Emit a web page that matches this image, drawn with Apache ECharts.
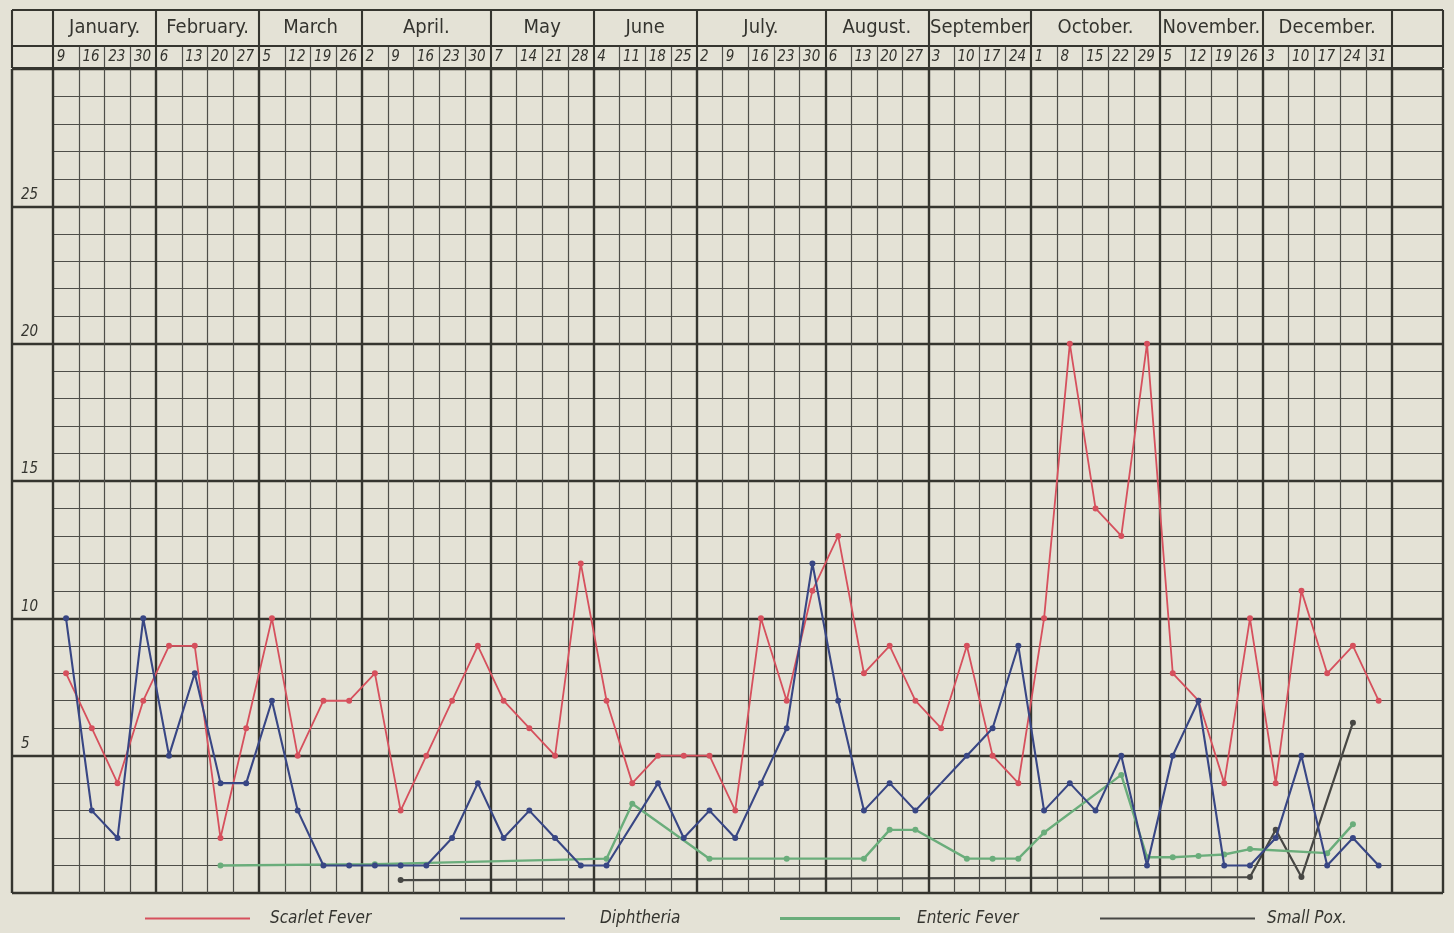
<!DOCTYPE html>
<html><head><meta charset="utf-8">
<script src="https://cdn.jsdelivr.net/npm/echarts@6/dist/echarts.min.js"></script>
<style>html,body{margin:0;padding:0;background:#e4e2d6;}#c{width:1454px;height:933px;}</style>
</head><body><div id="c"></div>
<script>
// ---------- data ----------
const months = ['January.','February.','March','April.','May','June','July.','August.','September','October.','November.','December.'];
const monthWeeks = [4,4,4,5,4,4,5,4,4,5,4,5];
const weekDays = ['9','16','23','30','6','13','20','27','5','12','19','26','2','9','16','23','30','7','14','21','28','4','11','18','25','2','9','16','23','30','6','13','20','27','3','10','17','24','1','8','15','22','29','5','12','19','26','3','10','17','24','31'];
const seriesNames = ['Scarlet Fever','Diphtheria','Enteric Fever','Small Pox.'];
const scarlet = [8,6,4,7,9,9,2,6,10,5,7,7,8,3,5,7,9,7,6,5,12,7,4,5,5,5,3,10,7,11,13,8,9,7,6,9,5,4,10,20,14,13,20,8,7,4,10,4,11,8,9,7];
const diphtheria = [10,3,2,10,5,8,4,4,7,3,1,1,1,1,1,2,4,2,3,2,1,1,null,4,2,3,2,4,6,12,7,3,4,3,null,5,6,9,3,4,3,5,1,5,7,1,1,2,5,1,2,1];
const enteric = [null,null,null,null,null,null,1.0,null,null,null,null,null,1.05,null,null,null,null,null,null,null,null,1.25,3.25,null,null,1.25,null,null,1.25,null,null,1.25,2.3,2.3,null,1.25,1.25,1.25,2.2,null,null,4.3,1.3,1.3,1.35,1.4,1.6,null,null,1.45,2.5,null];
const smallPox = [null,null,null,null,null,null,null,null,null,null,null,null,null,0.47,null,null,null,null,null,null,null,null,null,null,null,null,null,null,null,null,null,null,null,null,null,null,null,null,null,null,null,null,null,null,null,null,0.58,2.3,0.58,null,6.2,null];

// ---------- layout constants ----------
const XMIN = -1.6, XMAX = 54, YMAX = 30;
const HEAD_H = 58, HEAD_SPLIT = 22;
const ink = '#35352f', inkLight = '#4e4e49';
const textInk = '#34342f';
const fontC = '"DejaVu Sans Condensed","Liberation Sans Narrow","DejaVu Sans",sans-serif';

const nWeeks = weekDays.length;
const monthStarts = []; { let a = 0; monthWeeks.forEach(w => { monthStarts.push(a); a += w; }); }
const heavyX = monthStarts.concat([nWeeks]);
const pts = arr => arr.map((v, i) => v == null ? null : [i + 0.5, v]).filter(p => p);
const seg = (x1, y1, x2, y2) => [{coord: [x1, y1]}, {coord: [x2, y2]}];

// main grid lines
const mainHeavy = [], mainMinor = [];
for (let i = 0; i <= nWeeks; i++) (heavyX.includes(i) ? mainHeavy : mainMinor).push(seg(i, 0, i, YMAX));
mainHeavy.push(seg(XMIN, 0, XMIN, YMAX)); mainHeavy.push(seg(XMAX, 0, XMAX, YMAX));
for (let y = 1; y < YMAX; y++) if (y % 5) mainMinor.push(seg(0, y, XMAX, y));
// header lines
const headHeavy = [], headMinor = [];
[0, HEAD_SPLIT, HEAD_H].forEach(y => headHeavy.push(seg(XMIN, y, XMAX, y)));
[XMIN, XMAX].concat(heavyX).forEach(x => headHeavy.push(seg(x, 0, x, HEAD_H)));
for (let i = 1; i < nWeeks; i++) if (!heavyX.includes(i)) headMinor.push(seg(i, 0, i, HEAD_SPLIT));

const lineHelper = (xi, data, width, color) => ({
  type: 'line', xAxisIndex: xi, yAxisIndex: xi, data: [], silent: true, z: 1,
  markLine: { silent: true, symbol: ['none','none'], label: {show: false}, animation: false,
    lineStyle: {type: 'solid', width: width, color: color}, data: data }
});

const legendText = pad => ({color: textInk, fontSize: 17, fontStyle: 'italic', fontFamily: fontC, padding: [0,0,0,pad]});

const chart = echarts.init(document.getElementById('c'));
chart.setOption({
  backgroundColor: '#e4e2d6',
  animation: false,
  grid: [
    {left: 12, right: 11, top: 69, bottom: 40},
    {left: 12, right: 11, top: 10, height: HEAD_H}
  ],
  xAxis: [
    {type: 'value', gridIndex: 0, min: XMIN, max: XMAX, show: false},
    {type: 'value', gridIndex: 1, min: XMIN, max: XMAX, show: false}
  ],
  yAxis: [
    {type: 'value', gridIndex: 0, min: 0, max: YMAX, interval: 5,
      axisLine: {show: false}, axisTick: {show: false},
      splitLine: {show: true, lineStyle: {color: ink, width: 2.3}},
      axisLabel: {inside: true, margin: 9, verticalAlign: 'bottom', padding: [0,0,4,0],
        color: textInk, fontSize: 15, fontStyle: 'italic', fontFamily: fontC,
        formatter: v => (v > 0 && v < YMAX) ? String(v) : ''}},
    {type: 'value', gridIndex: 1, min: 0, max: HEAD_H, show: false}
  ],
  legend: [
    {data: [seriesNames[0]], left: 140, top: 905, itemWidth: 105, itemHeight: 2, icon: 'rect', textStyle: legendText(15)},
    {data: [seriesNames[1]], left: 455, top: 905, itemWidth: 105, itemHeight: 2, icon: 'rect', textStyle: legendText(30)},
    {data: [seriesNames[2]], left: 775, top: 905, itemWidth: 120, itemHeight: 3, icon: 'rect', textStyle: legendText(12)},
    {data: [seriesNames[3]], left: 1095, top: 905, itemWidth: 155, itemHeight: 2, icon: 'rect', textStyle: legendText(7)}
  ],
  series: [
    lineHelper(0, mainMinor, 1.2, inkLight),
    lineHelper(0, mainHeavy, 2.4, ink),
    lineHelper(1, headMinor, 1.2, inkLight),
    lineHelper(1, headHeavy, 2.1, ink),
    {type: 'scatter', xAxisIndex: 1, yAxisIndex: 1, silent: true, symbolSize: 1,
      itemStyle: {color: 'rgba(0,0,0,0)', opacity: 1},
      data: months.map((m, k) => [monthStarts[k] + monthWeeks[k] / 2, (HEAD_SPLIT + HEAD_H) / 2, m]),
      label: {show: true, position: 'inside', formatter: p => p.data[2], color: textInk, textBorderWidth: 0, fontSize: 20, fontFamily: fontC}},
    {type: 'scatter', xAxisIndex: 1, yAxisIndex: 1, silent: true, symbolSize: 1,
      itemStyle: {color: 'rgba(0,0,0,0)', opacity: 1},
      data: weekDays.map((d, i) => [i, HEAD_SPLIT / 2, d]),
      label: {show: true, position: 'right', distance: 3, formatter: p => p.data[2], color: textInk, textBorderWidth: 0, fontSize: 15, fontStyle: 'italic', fontFamily: fontC}},
    {name: seriesNames[3], type: 'line', data: pts(smallPox), color: '#474744', z: 4,
      lineStyle: {width: 2.2}, symbol: 'circle', symbolSize: 6},
    {name: seriesNames[2], type: 'line', data: pts(enteric), color: '#6aad7b', z: 5,
      lineStyle: {width: 2.4}, symbol: 'circle', symbolSize: 6},
    {name: seriesNames[0], type: 'line', data: pts(scarlet), color: '#d6505d', z: 6,
      lineStyle: {width: 1.8}, symbol: 'circle', symbolSize: 6},
    {name: seriesNames[1], type: 'line', data: pts(diphtheria), color: '#384684', z: 7,
      lineStyle: {width: 2.1}, symbol: 'circle', symbolSize: 6}
  ]
});
</script></body></html>
